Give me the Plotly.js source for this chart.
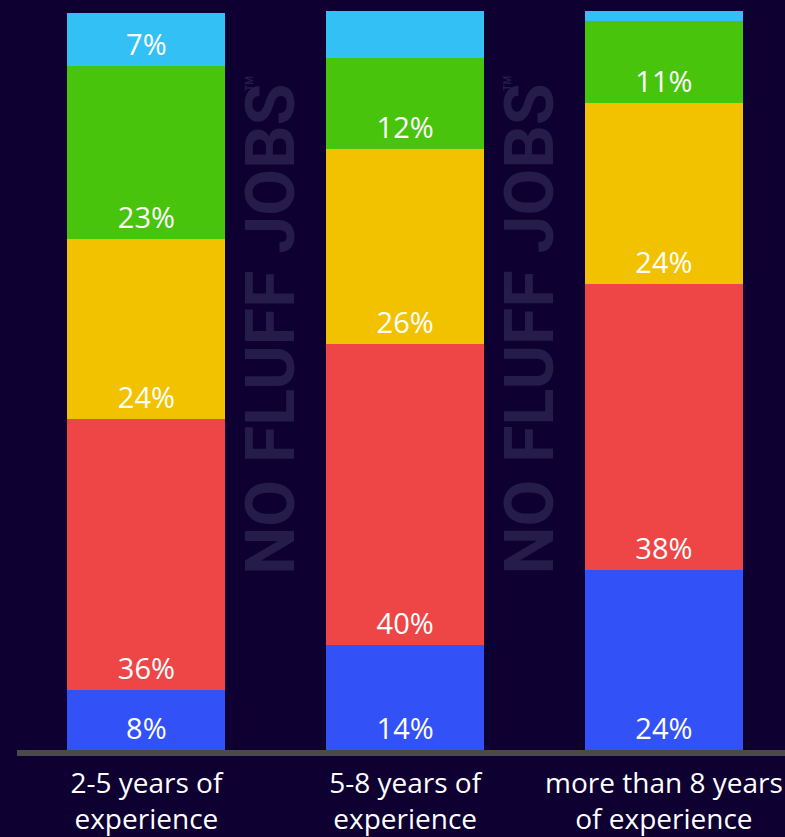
<!DOCTYPE html>
<html>
<head>
<meta charset="utf-8">
<script src="https://cdn.plot.ly/plotly-3.0.1.min.js"></script>
<style>
  html, body { margin: 0; padding: 0; background: #0e0030; overflow: hidden; }
  #chart { width: 785px; height: 837px; }
</style>
</head>
<body>
<div id="chart"></div>
<script>
// Experience groups (x categories)
const categories = [
  "2-5 years of<br>experience",
  "5-8 years of<br>experience",
  "more than 8 years<br>of experience"
];

// Share of respondents per segment, bottom to top (percent)
const seriesBlue   = [8, 14, 24];
const seriesRed    = [36, 40, 38];
const seriesYellow = [24, 26, 24];
const seriesGreen  = [23, 12, 11];
const seriesCyan   = [7, 8, 3];

// Which segments carry a printed value
const showCyanLabel = [true, false, false];

const colors = {
  blue: "#3252f7",
  red: "#ee4646",
  yellow: "#f2c200",
  green: "#48c40d",
  cyan: "#33c0f5"
};

const labelFont = { family: "'Open Sans', Lato, sans-serif", size: 29, color: "#ffffff" };

function segment(values, color, showFlags) {
  return {
    type: "bar",
    x: categories,
    y: values,
    text: values.map((v, i) => (showFlags && !showFlags[i]) ? "" : v + "%"),
    texttemplate: "%{text}",
    textposition: "inside",
    insidetextanchor: "start",
    textangle: 0,
    constraintext: "none",
    insidetextfont: labelFont,
    marker: { color: color, line: { width: 0 } },
    width: 0.61,
    hoverinfo: "skip",
    showlegend: false
  };
}

const data = [
  segment(seriesBlue, colors.blue),
  segment(seriesRed, colors.red),
  segment(seriesYellow, colors.yellow),
  segment(seriesGreen, colors.green),
  segment(seriesCyan, colors.cyan, showCyanLabel)
];

// Vertical brand mark placed in the gaps between the bars
const markFont = { family: "Roboto, 'Liberation Sans', sans-serif", size: 68, color: "#261c4a", weight: 900 };
const markText = "<b>NO FLUFF JOBS</b>";
const annotations = [];
[0.5, 1.5].forEach(xPos => {
  annotations.push({
    x: xPos, y: 56, xref: "x", yref: "y",
    text: markText, textangle: -90, showarrow: false,
    font: markFont, xshift: -5
  });
  annotations.push({
    x: xPos, y: 88.7, xref: "x", yref: "y",
    text: "<b>TM</b>", textangle: -90, showarrow: false,
    font: { family: "Roboto, sans-serif", size: 10, color: "#261c4a" }, xshift: -27
  });
});

const layout = {
  width: 785,
  height: 837,
  barmode: "stack",
  paper_bgcolor: "#0e0030",
  plot_bgcolor: "#0e0030",
  margin: { l: 17, r: 0, t: 11, b: 87 },
  xaxis: {
    type: "category",
    range: [-0.5, 2.468],
    showline: true,
    linecolor: "#4a4a4a",
    linewidth: 6,
    ticks: "",
    ticklabelstandoff: 3,
    showgrid: false,
    zeroline: false,
    tickfont: { family: "'Open Sans', Lato, sans-serif", size: 28, color: "#ffffff" },
    fixedrange: true
  },
  yaxis: {
    range: [0, 98.3],
    visible: false,
    showgrid: false,
    zeroline: false,
    fixedrange: true
  },
  annotations: annotations,
  font: { family: "'Open Sans', sans-serif", color: "#ffffff" }
};

Plotly.newPlot("chart", data, layout, { displayModeBar: false, staticPlot: true });
</script>
</body>
</html>
